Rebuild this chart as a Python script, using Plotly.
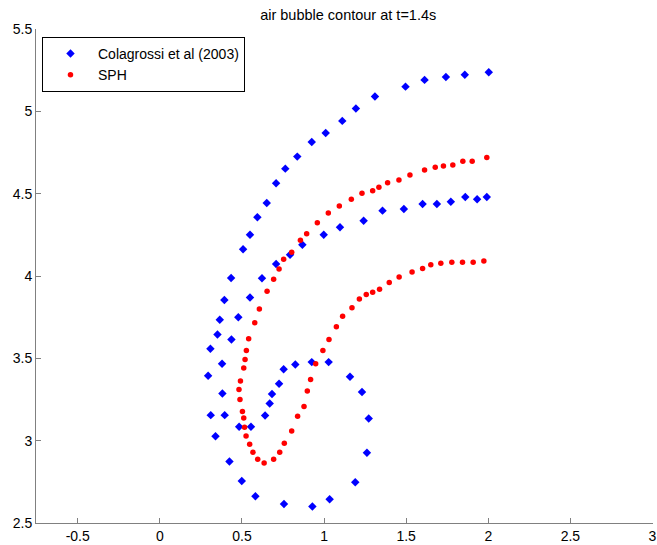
import plotly.graph_objects as go

# Colagrossi et al (2003) contour points
colagrossi_x = [2.003, 1.857, 1.742, 1.612, 1.496, 1.310, 1.194, 1.111, 1.010, 0.925,
                0.837, 0.764, 0.708, 0.651, 0.594, 0.549, 0.507, 0.434, 0.393, 0.365,
                0.351, 0.308, 0.294, 0.310, 0.339, 0.424, 0.499, 0.582, 0.756, 0.929,
                1.034, 1.190, 1.261, 1.272, 1.231, 1.158, 1.028, 0.925, 0.825, 0.754,
                0.726, 0.683, 0.669, 0.641, 0.555, 0.483, 0.395, 0.381, 0.379, 0.436,
                0.478, 0.549, 0.622, 0.708, 0.793, 0.868, 0.998, 1.097, 1.241, 1.356,
                1.486, 1.600, 1.687, 1.772, 1.860, 1.932, 1.991]
colagrossi_y = [5.237, 5.222, 5.208, 5.191, 5.150, 5.090, 5.017, 4.942, 4.869, 4.814,
                4.725, 4.652, 4.563, 4.443, 4.357, 4.251, 4.162, 3.988, 3.854, 3.734,
                3.645, 3.558, 3.394, 3.155, 3.027, 2.873, 2.755, 2.662, 2.616, 2.600,
                2.644, 2.748, 2.927, 3.135, 3.295, 3.388, 3.477, 3.477, 3.463, 3.434,
                3.346, 3.284, 3.226, 3.153, 3.084, 3.084, 3.155, 3.287, 3.467, 3.615,
                3.750, 3.870, 3.986, 4.073, 4.129, 4.190, 4.251, 4.296, 4.336, 4.397,
                4.407, 4.437, 4.437, 4.451, 4.480, 4.466, 4.480]

# SPH contour points
sph_x = [1.991, 1.902, 1.845, 1.784, 1.727, 1.677, 1.612, 1.523, 1.456, 1.387,
         1.334, 1.296, 1.231, 1.166, 1.093, 1.026, 0.959, 0.894, 0.856, 0.803,
         0.754, 0.726, 0.693, 0.653, 0.606, 0.578, 0.541, 0.527, 0.519, 0.511,
         0.491, 0.482, 0.488, 0.503, 0.511, 0.516, 0.525, 0.547, 0.567, 0.596,
         0.635, 0.693, 0.730, 0.758, 0.803, 0.839, 0.878, 0.898, 0.918, 0.949,
         0.993, 1.030, 1.075, 1.113, 1.170, 1.215, 1.257, 1.296, 1.338, 1.397,
         1.457, 1.536, 1.600, 1.650, 1.711, 1.778, 1.843, 1.908, 1.973]
sph_y = [4.719, 4.697, 4.697, 4.674, 4.668, 4.660, 4.644, 4.614, 4.583, 4.567,
         4.539, 4.517, 4.502, 4.466, 4.425, 4.383, 4.324, 4.257, 4.217, 4.144,
         4.101, 4.042, 3.981, 3.908, 3.799, 3.716, 3.619, 3.548, 3.493, 3.442,
         3.363, 3.311, 3.250, 3.177, 3.138, 3.081, 3.029, 2.978, 2.930, 2.887,
         2.865, 2.887, 2.930, 2.985, 3.059, 3.149, 3.208, 3.302, 3.372, 3.467,
         3.548, 3.615, 3.692, 3.755, 3.807, 3.860, 3.888, 3.902, 3.919, 3.961,
         3.994, 4.024, 4.045, 4.068, 4.077, 4.083, 4.083, 4.083, 4.091]

x_ticks = [-0.5, 0, 0.5, 1, 1.5, 2, 2.5, 3]
x_tick_text = ["-0.5", "0", "0.5", "1", "1.5", "2", "2.5", "3"]
y_ticks = [2.5, 3, 3.5, 4, 4.5, 5, 5.5]
y_tick_text = ["2.5", "3", "3.5", "4", "4.5", "5", "5.5"]

FONT = "Liberation Sans, Arial, sans-serif"

fig = go.Figure()
fig.add_trace(go.Scatter(
    x=colagrossi_x, y=colagrossi_y, mode="markers",
    name="Colagrossi et al (2003)",
    marker=dict(symbol="diamond", size=6.5, color="#0000ff", line=dict(width=0)),
))
fig.add_trace(go.Scatter(
    x=sph_x, y=sph_y, mode="markers", name="SPH",
    marker=dict(symbol="circle", size=5.5, color="#ff0000", line=dict(width=0)),
))

axis_common = dict(
    showgrid=False, zeroline=False, showline=True, linecolor="#808080",
    linewidth=1, ticks="inside", ticklen=5, tickcolor="#808080",
    tickfont=dict(family=FONT, size=14, color="black"),
    mirror=False, automargin=False, ticklabeloverflow="allow",
)

fig.update_layout(
    width=657, height=545,
    margin=dict(l=36, r=4, t=29, b=22, autoexpand=False),
    paper_bgcolor="white", plot_bgcolor="white",
    title=dict(text="air bubble contour at t=1.4s", x=0.53, xanchor="center",
               y=0.973, yanchor="middle",
               font=dict(family=FONT, size=14.5, color="black")),
    xaxis=dict(range=[-0.754, 3.003], tickvals=x_ticks, ticktext=x_tick_text, **axis_common),
    yaxis=dict(range=[2.5, 5.5], tickvals=y_ticks, ticktext=y_tick_text, **axis_common),
    legend=dict(x=0.0097, y=0.984, xanchor="left", yanchor="top",
                bordercolor="black", borderwidth=1, bgcolor="white",
                itemwidth=45, tracegroupgap=0,
                font=dict(family=FONT, size=14, color="black")),
    showlegend=True,
)

fig.write_html(
    "out.html",
    config={"displayModeBar": False},
    post_script="document.body.style.margin='0';document.body.style.overflow='hidden';",
)
